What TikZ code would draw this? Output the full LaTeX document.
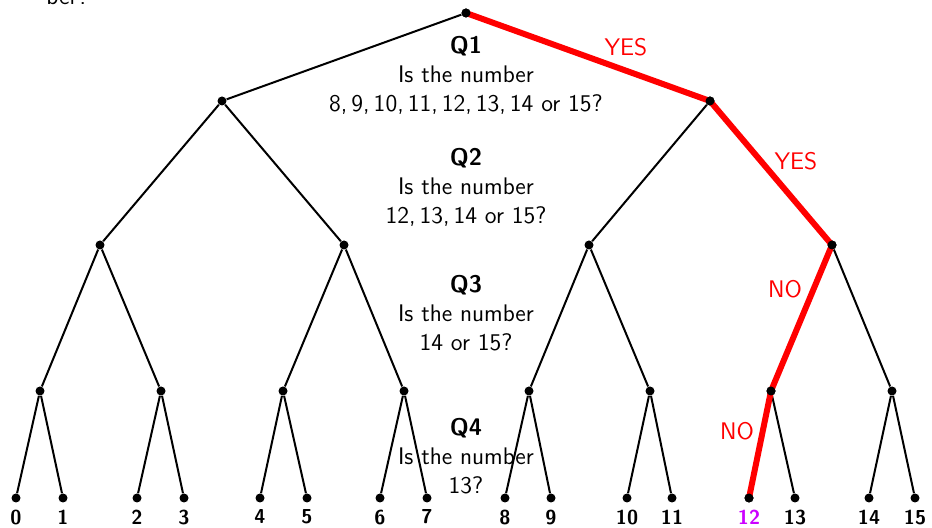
\documentclass[tikz,border=0pt]{standalone}
\usepackage{tikz}
\usetikzlibrary{positioning}
\definecolor{pathred}{RGB}{255,0,0}
\definecolor{pickviolet}{RGB}{204,0,255}

\begin{document}
\begin{tikzpicture}[
  x=0.5pt, y=-0.5pt,
  font=\sffamily\fontsize{12}{14.5}\selectfont,
  dot/.style={circle, fill=black, inner sep=0pt, minimum size=4.5pt},
  edge/.style={line width=1pt, black},
  chosen/.style={line width=3pt, pathred},
  question/.style={align=center, inner sep=1pt},
  answer/.style={text=pathred, inner sep=1pt},
  leaf/.style={font=\sffamily\bfseries\fontsize{12}{14.5}\selectfont, scale=0.84, inner sep=1.5pt, label distance=2.5pt}
]
\useasboundingbox (0,0) rectangle (932,528);

% tail of the text above
\node[anchor=base west, inner sep=0pt] (tail) at (46,5) {ber?};

% tree
\node[dot] (root) at (466,13) {};
\node[dot] (l1a) at (222,101) {};
\node[dot] (l1b) at (710,101) {};
\node[dot] (l2a) at (100,245) {};
\node[dot] (l2b) at (344,245) {};
\node[dot] (l2c) at (589,245) {};
\node[dot] (l2d) at (832,245) {};
\node[dot] (l3a) at (40,391) {};
\node[dot] (l3b) at (161,391) {};
\node[dot] (l3c) at (283,391) {};
\node[dot] (l3d) at (404,391) {};
\node[dot] (l3e) at (529,391) {};
\node[dot] (l3f) at (650,391) {};
\node[dot] (l3g) at (771,391) {};
\node[dot] (l3h) at (892,391) {};

\node[dot, label={[leaf]below:0}] (leaf0) at (16,498) {};
\node[dot, label={[leaf]below:1}] (leaf1) at (63,498) {};
\node[dot, label={[leaf]below:2}] (leaf2) at (137,498) {};
\node[dot, label={[leaf]below:3}] (leaf3) at (184,498) {};
\node[dot, label={[leaf]below:4}] (leaf4) at (260,498) {};
\node[dot, label={[leaf]below:5}] (leaf5) at (307,498) {};
\node[dot, label={[leaf]below:6}] (leaf6) at (380,498) {};
\node[dot, label={[leaf]below:7}] (leaf7) at (427,498) {};
\node[dot, label={[leaf]below:8}] (leaf8) at (505,498) {};
\node[dot, label={[leaf]below:9}] (leaf9) at (551,498) {};
\node[dot, label={[leaf]below:10}] (leaf10) at (627,498) {};
\node[dot, label={[leaf]below:11}] (leaf11) at (672,498) {};
\node[dot, label={[leaf, text=pickviolet]below:12}] (leaf12) at (749,498) {};
\node[dot, label={[leaf]below:13}] (leaf13) at (795,498) {};
\node[dot, label={[leaf]below:14}] (leaf14) at (869,498) {};
\node[dot, label={[leaf]below:15}] (leaf15) at (915,498) {};

% questions
\node[question] (q1) at (466,75) {\textbf{Q1}\\Is the number\\8,\,9,\,10,\,11,\,12,\,13,\,14 or 15?};
\node[question] (q2) at (466,187) {\textbf{Q2}\\Is the number\\12,\,13,\,14 or 15?};
\node[question] (q3) at (466,313) {\textbf{Q3}\\Is the number\\14 or 15?};
\node[question] (q4) at (466,456) {\textbf{Q4}\\Is the number\\13?};

% branches
\draw[edge] (root) -- (l1a);
\draw[edge] (l1a) -- (l2a);
\draw[edge] (l1a) -- (l2b);
\draw[edge] (l1b) -- (l2c);
\draw[edge] (l2a) -- (l3a);
\draw[edge] (l2a) -- (l3b);
\draw[edge] (l2b) -- (l3c);
\draw[edge] (l2b) -- (l3d);
\draw[edge] (l2c) -- (l3e);
\draw[edge] (l2c) -- (l3f);
\draw[edge] (l2d) -- (l3h);
\draw[edge] (l3a) -- (leaf0);
\draw[edge] (l3a) -- (leaf1);
\draw[edge] (l3b) -- (leaf2);
\draw[edge] (l3b) -- (leaf3);
\draw[edge] (l3c) -- (leaf4);
\draw[edge] (l3c) -- (leaf5);
\draw[edge] (l3d) -- (leaf6);
\draw[edge] (l3d) -- (leaf7);
\draw[edge] (l3e) -- (leaf8);
\draw[edge] (l3e) -- (leaf9);
\draw[edge] (l3f) -- (leaf10);
\draw[edge] (l3f) -- (leaf11);
\draw[edge] (l3g) -- (leaf13);
\draw[edge] (l3h) -- (leaf14);
\draw[edge] (l3h) -- (leaf15);

% path to 12
\draw[chosen] (root.center) -- (l1b.center) -- (l2d.center) -- (l3g.center) -- (leaf12.center);
\node[answer] (yes1) at (626,47) {YES};
\node[answer] (yes2) at (796,161) {YES};
\node[answer] (no1) at (785,289) {NO};
\node[answer] (no2) at (737,431) {NO};

% dots on top of the red path
\foreach \n in {root,l1b,l2d,l3g,leaf12}
  \fill (\n) circle (2.25pt);
\end{tikzpicture}
\end{document}
